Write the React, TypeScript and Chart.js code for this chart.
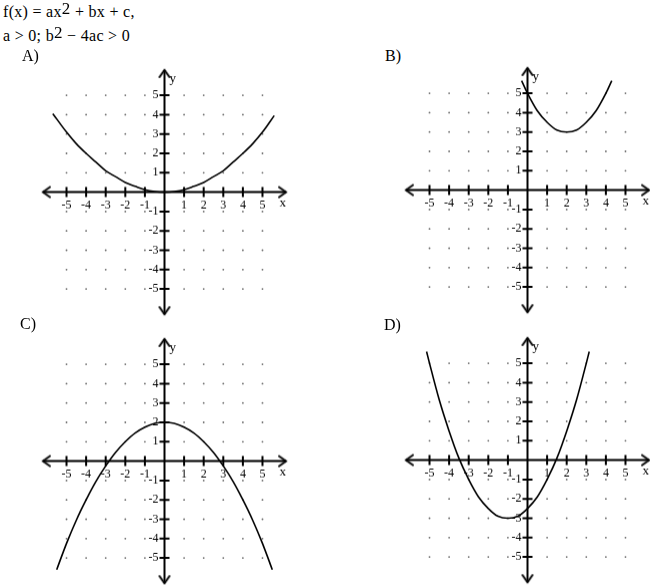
import React, { useEffect, useRef } from 'react';
import { Chart, registerables, Plugin } from 'chart.js';

Chart.register(...registerables);

// integer grid positions (ticks, labels and dots); 0 is the axis itself
const gridValues = [-5, -4, -3, -2, -1, 1, 2, 3, 4, 5];
const xLimits = [-6.2, 6.2];
const yLimits = [-6.3, 6.3];

// curves
const curveAx = [-5.7, -5, -4.5, -4, -3.5, -3, -2.5, -2, -1.5, -1, -0.5, 0, 0.5, 1, 1.5, 2, 2.5, 3, 3.5, 4, 4.5, 5, 5.6];
const curveAy = [4.05, 3.1, 2.5, 2.0, 1.55, 1.1, 0.8, 0.5, 0.3, 0.12, 0.03, 0, 0.03, 0.12, 0.3, 0.5, 0.8, 1.1, 1.55, 2.0, 2.5, 3.1, 3.95];

const curveBx = [-0.3, 0, 0.5, 1, 1.5, 2, 2.5, 3, 3.5, 4, 4.3];
const curveBy = [5.65, 5.0, 4.1, 3.5, 3.1, 3.0, 3.1, 3.5, 4.1, 5.0, 5.65];

const curveCx = [-5.5, -5, -4.5, -4, -3.5, -3, -2.5, -2, -1.5, -1, -0.5, 0, 0.5, 1, 1.5, 2, 2.5, 3, 3.5, 4, 4.5, 5, 5.5];
const curveCy = [-5.6, -4.25, -3.05, -2.0, -1.05, -0.25, 0.45, 1.0, 1.45, 1.75, 1.95, 2.0, 1.95, 1.75, 1.45, 1.0, 0.45, -0.25, -1.05, -2.0, -3.05, -4.25, -5.6];

const curveDx = [-5.15, -5, -4.5, -4, -3.5, -3, -2.5, -2, -1.5, -1, -0.5, 0, 0.5, 1, 1.5, 2, 2.5, 3, 3.15];
const curveDy = [5.6, 5.0, 3.1, 1.5, 0.1, -1.0, -1.9, -2.5, -2.9, -3.0, -2.9, -2.5, -1.9, -1.0, 0.1, 1.5, 3.1, 5.0, 5.6];

const panelLabels = ['A)', 'B)', 'C)', 'D)'];

const SERIF = '"Liberation Serif", "Times New Roman", serif';
const PAD = 14;
const UNIT_X = 19.6;
const UNIT_Y = 19.3;
const AREA_W = (xLimits[1] - xLimits[0]) * UNIT_X;
const AREA_H = (yLimits[1] - yLimits[0]) * UNIT_Y;

function makeArrow(): HTMLCanvasElement {
  const c = document.createElement('canvas');
  c.width = 24;
  c.height = 24;
  const g = c.getContext('2d')!;
  g.strokeStyle = '#000';
  g.lineWidth = 2;
  g.lineCap = 'round';
  g.beginPath();
  g.moveTo(5, 7);
  g.lineTo(12, 12);
  g.lineTo(5, 17);
  g.stroke();
  return c;
}

// y tick labels sit left of the centred axis, plus the "x" / "y" names
const axisText: Plugin = {
  id: 'axisText',
  beforeDatasetsDraw(chart) {
    const { ctx } = chart;
    const x = chart.scales.x;
    const y = chart.scales.y;
    const x0 = x.getPixelForValue(0);
    const y0 = y.getPixelForValue(0);
    ctx.save();
    ctx.fillStyle = '#000';
    ctx.textBaseline = 'middle';
    ctx.font = `12px ${SERIF}`;
    ctx.textAlign = 'right';
    y.ticks.forEach(t => ctx.fillText(String(t.value), x0 - 6, y.getPixelForValue(t.value)));
    ctx.font = `13px ${SERIF}`;
    ctx.fillText('x', x.right, y0 + 11);
    ctx.textAlign = 'left';
    ctx.fillText('y', x0 + 5, y.top + 9);
    ctx.restore();
  },
};

const toPoints = (xs: number[], ys: number[]) => xs.map((v, i) => ({ x: v, y: ys[i] }));

function tickScale(axis: 'x' | 'y') {
  return {
    type: 'linear' as const,
    min: axis === 'x' ? xLimits[0] : yLimits[0],
    max: axis === 'x' ? xLimits[1] : yLimits[1],
    position: axis === 'x' ? { y: 0 } : { x: 0 },
    afterBuildTicks: (s: any) => {
      s.ticks = gridValues.map(v => ({ value: v }));
    },
    grid: { display: true, drawOnChartArea: false, drawTicks: true, tickLength: 5, color: 'transparent' },
    border: { display: false },
    ticks: {
      display: axis === 'x',
      color: '#000',
      font: { family: SERIF, size: 12 },
      padding: 1,
      autoSkip: false,
      maxRotation: 0,
      callback: (v: any) => String(v),
    },
  };
}

const Panel: React.FC<{ xs: number[]; ys: number[] }> = ({ xs, ys }) => {
  const ref = useRef<HTMLCanvasElement>(null);

  useEffect(() => {
    if (!ref.current) return;
    const arrow = makeArrow();
    const dots = gridValues.flatMap(gx => gridValues.map(gy => ({ x: gx, y: gy })));
    const chart = new Chart(ref.current, {
      type: 'scatter',
      data: {
        datasets: [
          {
            data: toPoints(xs, ys),
            showLine: true,
            borderColor: '#000',
            borderWidth: 1.6,
            pointRadius: 0,
            cubicInterpolationMode: 'monotone',
            clip: false,
          },
          {
            data: gridValues.map(v => ({ x: v, y: 0 })),
            pointStyle: 'line',
            pointRadius: 5,
            pointRotation: 90,
            pointBorderWidth: 2,
            borderColor: '#000',
          },
          {
            data: gridValues.map(v => ({ x: 0, y: v })),
            pointStyle: 'line',
            pointRadius: 5,
            pointRotation: 0,
            pointBorderWidth: 2,
            borderColor: '#000',
          },
          {
            data: [{ x: xLimits[0], y: 0 }, { x: xLimits[1], y: 0 }],
            showLine: true,
            borderColor: '#000',
            borderWidth: 2,
            pointStyle: arrow,
            pointRadius: 6,
            pointRotation: [180, 0],
            clip: false,
          },
          {
            data: [{ x: 0, y: yLimits[0] }, { x: 0, y: yLimits[1] }],
            showLine: true,
            borderColor: '#000',
            borderWidth: 2,
            pointStyle: arrow,
            pointRadius: 6,
            pointRotation: [90, -90],
            clip: false,
          },
          {
            data: dots,
            pointRadius: 0.9,
            pointBorderWidth: 0,
            pointBackgroundColor: '#6a6a6a',
          },
        ],
      } as any,
      options: {
        animation: false,
        responsive: true,
        maintainAspectRatio: false,
        events: [],
        layout: { padding: PAD },
        plugins: { legend: { display: false }, tooltip: { enabled: false } },
        scales: { x: tickScale('x'), y: tickScale('y') } as any,
      },
      plugins: [axisText],
    });
    return () => chart.destroy();
  }, [xs, ys]);

  return <canvas ref={ref}></canvas>;
};

// where each panel's origin sits on the page, and its letter
const panels = [
  { ox: 165, oy: 192, lx: 22, ly: 47, xs: curveAx, ys: curveAy },
  { ox: 528, oy: 190, lx: 385, ly: 47, xs: curveBx, ys: curveBy },
  { ox: 165, oy: 461, lx: 20, ly: 315, xs: curveCx, ys: curveCy },
  { ox: 528, oy: 460, lx: 384, ly: 316, xs: curveDx, ys: curveDy },
];

const sup: React.CSSProperties = { fontSize: 17, position: 'relative', top: -3 };

export default function App() {
  return (
    <div style={{ position: 'fixed', left: 0, top: 0, width: 650, height: 585, background: '#fff', fontFamily: SERIF, color: '#000' }}>
      <div style={{ position: 'absolute', left: 3, top: 0, fontSize: 16, letterSpacing: 0.3, lineHeight: '24px', whiteSpace: 'nowrap' }}>
        f(x) = ax<span style={sup}>2</span> + bx + c,
        <br />
        a &gt; 0; b<span style={sup}>2</span> − 4ac &gt; 0
      </div>
      {panels.map((p, i) => {
        const left = p.ox + (xLimits[0] * UNIT_X) - PAD;
        const top = p.oy - (yLimits[1] * UNIT_Y) - PAD;
        return (
          <React.Fragment key={i}>
            <div style={{ position: 'absolute', left: p.lx, top: p.ly, fontSize: 16, lineHeight: '18px' }}>{panelLabels[i]}</div>
            <div style={{ position: 'absolute', left, top, width: AREA_W + 2 * PAD, height: AREA_H + 2 * PAD }}>
              <Panel xs={p.xs} ys={p.ys} />
            </div>
          </React.Fragment>
        );
      })}
    </div>
  );
}
